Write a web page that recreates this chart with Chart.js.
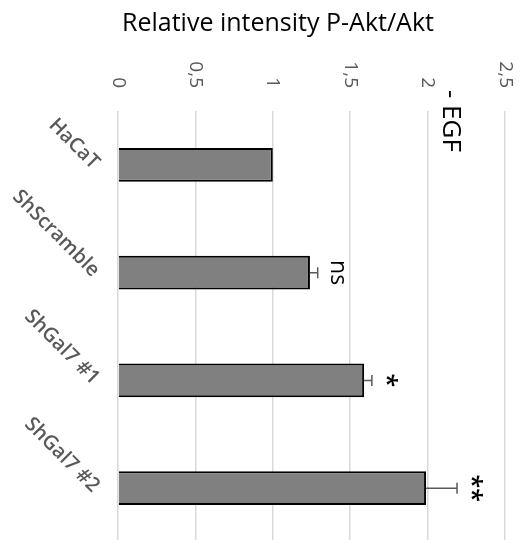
<!DOCTYPE html>
<html>
<head>
<meta charset="utf-8">
<script src="https://cdn.jsdelivr.net/npm/chart.js@4.4.1/dist/chart.umd.min.js"></script>
<style>
  html, body { margin: 0; padding: 0; background: #fff; overflow: hidden; }
  #wrap { width: 528px; height: 540px; overflow: hidden; }
  #wrap canvas { display: block; }
</style>
</head>
<body>
<div id="wrap"><canvas id="c" width="528" height="542"></canvas></div>
<script>
// Cell lines and their P-Akt/Akt ratio (mean, upper error, significance vs HaCaT)
const categories = ['HaCaT', 'ShScramble', 'ShGal7 #1', 'ShGal7 #2'];
const ratios = [1.0, 1.24, 1.59, 1.99];
const upperErrors = [0, 0.05, 0.05, 0.2];
const significance = ['', 'ns', '*', '**'];
const axisMin = 0;
const axisMax = 2.5;
const axisStep = 0.5;
const titleText = 'Relative intensity P-Akt/Akt';
const conditionText = '- EGF';

const FONT = '"Open Sans", Lato, "Liberation Sans", sans-serif';
const GREY_TEXT = '#595959';

const decorations = {
  id: 'decorations',
  afterDatasetsDraw(chart) {
    const ctx = chart.ctx;
    const xs = chart.scales.x;
    const ys = chart.scales.y;
    ctx.save();

    // error bars (upper side only) and significance marks
    ratios.forEach((v, i) => {
      const y = ys.getPixelForValue(i);
      const x1 = xs.getPixelForValue(v);
      const x2 = xs.getPixelForValue(v + upperErrors[i]);
      if (upperErrors[i] > 0) {
        ctx.strokeStyle = GREY_TEXT;
        ctx.lineWidth = 1.5;
        ctx.beginPath();
        ctx.moveTo(x1, y);
        ctx.lineTo(x2, y);
        ctx.moveTo(x2, y - 5.5);
        ctx.lineTo(x2, y + 5.5);
        ctx.stroke();
      }
      const mark = significance[i];
      if (mark) {
        const stars = mark.indexOf('*') >= 0;
        ctx.save();
        ctx.translate(x2 + (stars ? 14 : 20), y);
        ctx.rotate(Math.PI / 2);
        ctx.fillStyle = '#000';
        ctx.font = stars ? '600 25px ' + FONT : '23px ' + FONT;
        ctx.textAlign = 'center';
        ctx.textBaseline = 'middle';
        ctx.fillText(mark, 0, 0);
        ctx.restore();
      }
    });
    ctx.restore();
  },
  afterDraw(chart) {
    const ctx = chart.ctx;
    const xs = chart.scales.x;
    const ys = chart.scales.y;
    const area = chart.chartArea;
    ctx.save();

    // title
    ctx.fillStyle = '#000';
    ctx.font = '25px ' + FONT;
    ctx.textAlign = 'center';
    ctx.textBaseline = 'middle';
    ctx.fillText(titleText, 278, 24);

    // value axis labels, rotated to read downwards
    ctx.fillStyle = GREY_TEXT;
    ctx.font = '19px ' + FONT;
    xs.ticks.forEach(t => {
      const label = String(t.value).replace('.', ',');
      const x = xs.getPixelForValue(t.value);
      ctx.save();
      ctx.translate(x, area.top - 23);
      ctx.rotate(Math.PI / 2);
      ctx.textAlign = 'right';
      ctx.textBaseline = 'middle';
      ctx.fillText(label, 0, 0);
      ctx.restore();
    });

    // category labels at 45 degrees
    ctx.font = '600 20px ' + FONT;
    categories.forEach((c, i) => {
      const y = ys.getPixelForValue(i);
      ctx.save();
      ctx.translate(area.left - 22, y + 1);
      ctx.rotate(Math.PI / 4);
      ctx.textAlign = 'right';
      ctx.textBaseline = 'middle';
      ctx.fillText(c, 0, 0);
      ctx.restore();
    });

    // condition note
    ctx.fillStyle = '#000';
    ctx.font = '26px ' + FONT;
    ctx.save();
    ctx.translate(area.right - 55, area.top - 21);
    ctx.rotate(Math.PI / 2);
    ctx.textAlign = 'left';
    ctx.textBaseline = 'middle';
    ctx.fillText(conditionText, 0, 0);
    ctx.restore();

    ctx.restore();
  }
};

new Chart(document.getElementById('c'), {
  type: 'bar',
  data: {
    labels: categories,
    datasets: [{
      data: ratios,
      backgroundColor: '#808080',
      borderColor: '#000',
      borderWidth: 2,
      borderSkipped: 'start',
      categoryPercentage: 1,
      barPercentage: 0.315
    }]
  },
  options: {
    indexAxis: 'y',
    responsive: false,
    animation: false,
    layout: { padding: { left: 118, right: 23, top: 111, bottom: 0 } },
    plugins: { legend: { display: false }, tooltip: { enabled: false }, title: { display: false } },
    scales: {
      x: {
        position: 'top',
        min: axisMin,
        max: axisMax,
        ticks: { display: false, stepSize: axisStep },
        grid: { color: '#d9d9d9', lineWidth: 1.5, drawTicks: false },
        border: { display: false }
      },
      y: {
        type: 'category',
        offset: true,
        ticks: { display: false },
        grid: { display: false, drawTicks: false },
        border: { display: false }
      }
    }
  },
  plugins: [decorations]
});
</script>
</body>
</html>
